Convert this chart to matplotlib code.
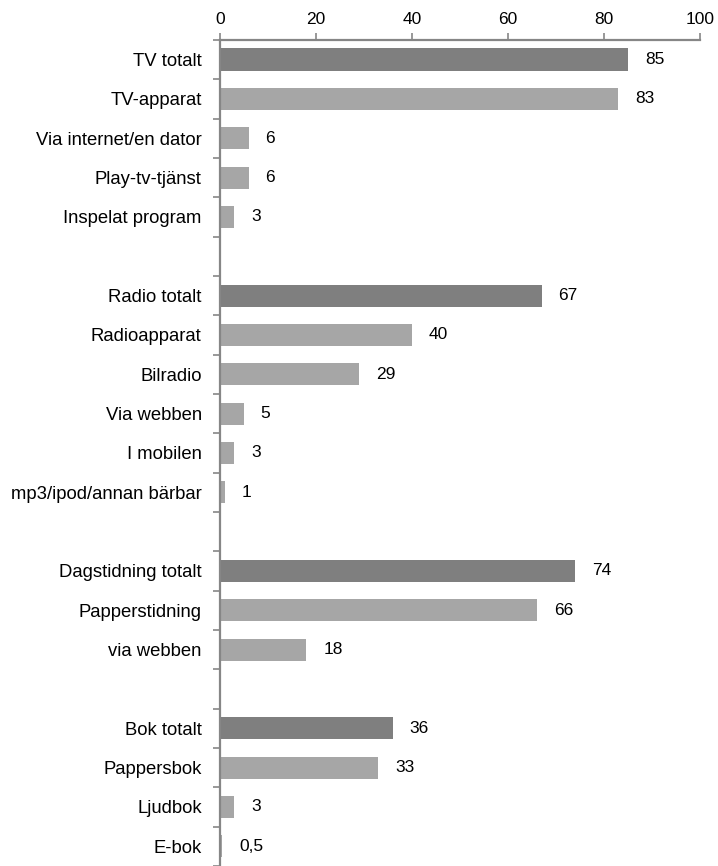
import matplotlib
matplotlib.use("Agg")
import matplotlib.pyplot as plt
import numpy as np

plt.rcParams['font.family'] = ['Liberation Sans', 'DejaVu Sans']

labels = ["TV totalt", "TV-apparat", "Via internet/en dator", "Play-tv-tjänst", "Inspelat program", "",
          "Radio totalt", "Radioapparat", "Bilradio", "Via webben", "I mobilen", "mp3/ipod/annan bärbar", "",
          "Dagstidning totalt", "Papperstidning", "via webben", "",
          "Bok totalt", "Pappersbok", "Ljudbok", "E-bok"]
values = [85, 83, 6, 6, 3, None,
          67, 40, 29, 5, 3, 1, None,
          74, 66, 18, None,
          36, 33, 3, 0.5]
value_text = ["85", "83", "6", "6", "3", "",
              "67", "40", "29", "5", "3", "1", "",
              "74", "66", "18", "",
              "36", "33", "3", "0,5"]
is_total = [True, False, False, False, False, False,
            True, False, False, False, False, False, False,
            True, False, False, False,
            True, False, False, False]
xticks = [0, 20, 40, 60, 80, 100]

dark = "#7f7f7f"
light = "#a6a6a6"
axis_col = "#868686"

fig = plt.figure(figsize=(7.18, 8.66), dpi=100)
ax = fig.add_axes([0.306, 0.0, 0.669, 0.954])

n = len(labels)
y = np.arange(n)
for i, v in enumerate(values):
    if v is None:
        continue
    ax.barh(i, v, height=0.56, color=dark if is_total[i] else light, zorder=2)
    ax.annotate(value_text[i], xy=(v, i), xytext=(17, 0), textcoords="offset pixels",
                ha="left", va="center", fontsize=12.5, color="#000000")

ax.set_ylim(n - 0.5, -0.5)
ax.set_xlim(0, 100)
ax.set_yticks(y)
ax.set_yticklabels(labels, fontsize=13.3)
ax.set_yticks(np.arange(-0.5, n, 1.0), minor=True)
ax.tick_params(axis="y", which="major", length=0, pad=13)
ax.tick_params(axis="y", which="minor", length=5, width=1.2, color=axis_col, direction="out")

ax.xaxis.tick_top()
ax.set_xticks(xticks)
ax.set_xticklabels([str(t) for t in xticks], fontsize=12.5)
ax.tick_params(axis="x", length=5, width=1.2, color=axis_col, direction="out", pad=4)

for s in ["right", "bottom"]:
    ax.spines[s].set_visible(False)
for s in ["left", "top"]:
    ax.spines[s].set_color(axis_col)
    ax.spines[s].set_linewidth(1.6)
    ax.spines[s].set_zorder(3)

fig.savefig("out.png", dpi=100)
